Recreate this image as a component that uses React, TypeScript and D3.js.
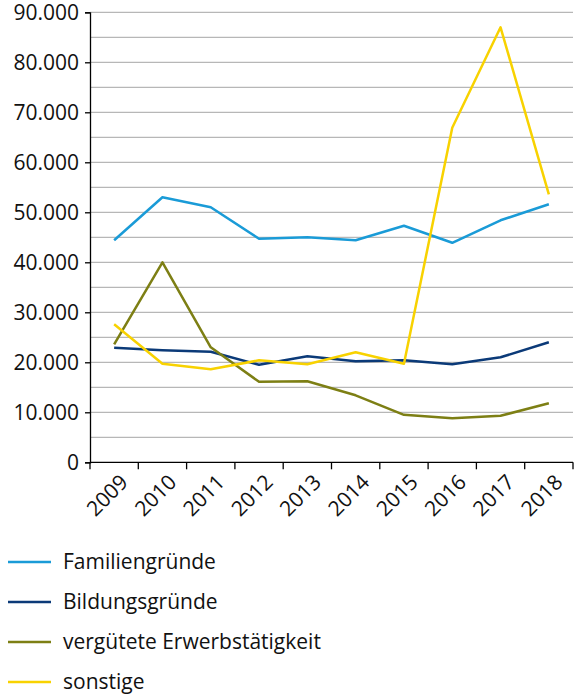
import { useEffect, useRef } from "react";
import * as d3 from "d3";

const years = ["2009", "2010", "2011", "2012", "2013", "2014", "2015", "2016", "2017", "2018"];
const familie = [44400, 53000, 51000, 44700, 45000, 44400, 47300, 43900, 48400, 51600];
const bildung = [22900, 22400, 22100, 19500, 21200, 20200, 20400, 19600, 21000, 24000];
const erwerb = [23600, 40000, 23000, 16100, 16200, 13400, 9500, 8800, 9300, 11800];
const sonstige = [27600, 19700, 18600, 20400, 19600, 22000, 19700, 66900, 87000, 53600];
const seriesNames = ["Familiengründe", "Bildungsgründe", "vergütete Erwerbstätigkeit", "sonstige"];
const colors = ["#1a9bd7", "#0b3a78", "#7d7f14", "#f8d200"];

const FONT = "'Open Sans', sans-serif";

const App = () => {
  const svgRef = useRef<SVGSVGElement | null>(null);

  useEffect(() => {
    if (!svgRef.current) return;
    const svg = d3.select(svgRef.current);
    svg.selectAll("*").remove();

    const left = 90;
    const right = 573;
    const top = 12.3;
    const bottom = 462.3;

    const x = d3.scaleBand<string>().domain(years).range([left, right]);
    const y = d3.scaleLinear().domain([0, 90000]).range([bottom, top]);

    // gridlines every 5.000
    svg
      .append("g")
      .selectAll("line")
      .data(d3.range(5000, 90001, 5000))
      .join("line")
      .attr("x1", left)
      .attr("x2", right)
      .attr("y1", (d) => y(d))
      .attr("y2", (d) => y(d))
      .attr("stroke", "#a6a6a6")
      .attr("stroke-width", 1);

    // y axis
    const yAxis = svg
      .append("g")
      .attr("transform", `translate(${left},0)`)
      .call(
        d3
          .axisLeft(y)
          .tickValues(d3.range(0, 90001, 10000))
          .tickSize(5)
          .tickPadding(6)
          .tickFormat((d) => (d as number === 0 ? "0" : d3.format(",")(d as number).replace(/,/g, ".")))
      );
    yAxis.select(".domain").attr("stroke", "#000").attr("stroke-width", 1.3);
    yAxis.selectAll(".tick line").attr("stroke", "#000").attr("stroke-width", 1.3);
    yAxis
      .selectAll("text")
      .attr("font-family", FONT)
      .attr("font-size", 21)
      .attr("fill", "#111");

    // x axis
    const xAxis = svg.append("g").attr("transform", `translate(0,${bottom})`);
    xAxis
      .append("line")
      .attr("x1", left)
      .attr("x2", right)
      .attr("stroke", "#000")
      .attr("stroke-width", 1.3);
    xAxis
      .selectAll("line.tk")
      .data(d3.range(0, years.length + 1))
      .join("line")
      .attr("class", "tk")
      .attr("x1", (i) => left + i * x.step())
      .attr("x2", (i) => left + i * x.step())
      .attr("y1", 0)
      .attr("y2", 7)
      .attr("stroke", "#000")
      .attr("stroke-width", 1.3);
    xAxis
      .selectAll("text")
      .data(years)
      .join("text")
      .attr("transform", (d) => `translate(${(x(d) as number) + x.bandwidth() / 2 + 10},${16}) rotate(-45)`)
      .attr("text-anchor", "end")
      .attr("dy", "0.35em")
      .attr("font-family", FONT)
      .attr("font-size", 21)
      .attr("fill", "#111")
      .text((d) => d);

    // lines
    const allSeries = [familie, bildung, erwerb, sonstige];
    const line = d3
      .line<number>()
      .x((_, i) => (x(years[i]) as number) + x.bandwidth() / 2)
      .y((d) => y(d));

    allSeries.forEach((s, k) => {
      svg
        .append("path")
        .datum(s)
        .attr("fill", "none")
        .attr("stroke", colors[k])
        .attr("stroke-width", 2.5)
        .attr("stroke-linejoin", "round")
        .attr("d", line);
    });

    // legend
    const legend = svg
      .append("g")
      .selectAll("g")
      .data(seriesNames)
      .join("g")
      .attr("transform", (_, i) => `translate(8,${562 + i * 40})`);
    legend
      .append("line")
      .attr("x1", 0)
      .attr("x2", 43)
      .attr("stroke", (_, i) => colors[i])
      .attr("stroke-width", 2.5);
    legend
      .append("text")
      .attr("x", 55)
      .attr("dy", "0.35em")
      .attr("font-family", FONT)
      .attr("font-size", 21)
      .attr("fill", "#111")
      .text((d) => d);
  }, []);

  return (
    <svg
      ref={svgRef}
      width={574}
      height={697}
      style={{ position: "absolute", left: 0, top: 0, background: "#fff" }}
    ></svg>
  );
};

export default App;
